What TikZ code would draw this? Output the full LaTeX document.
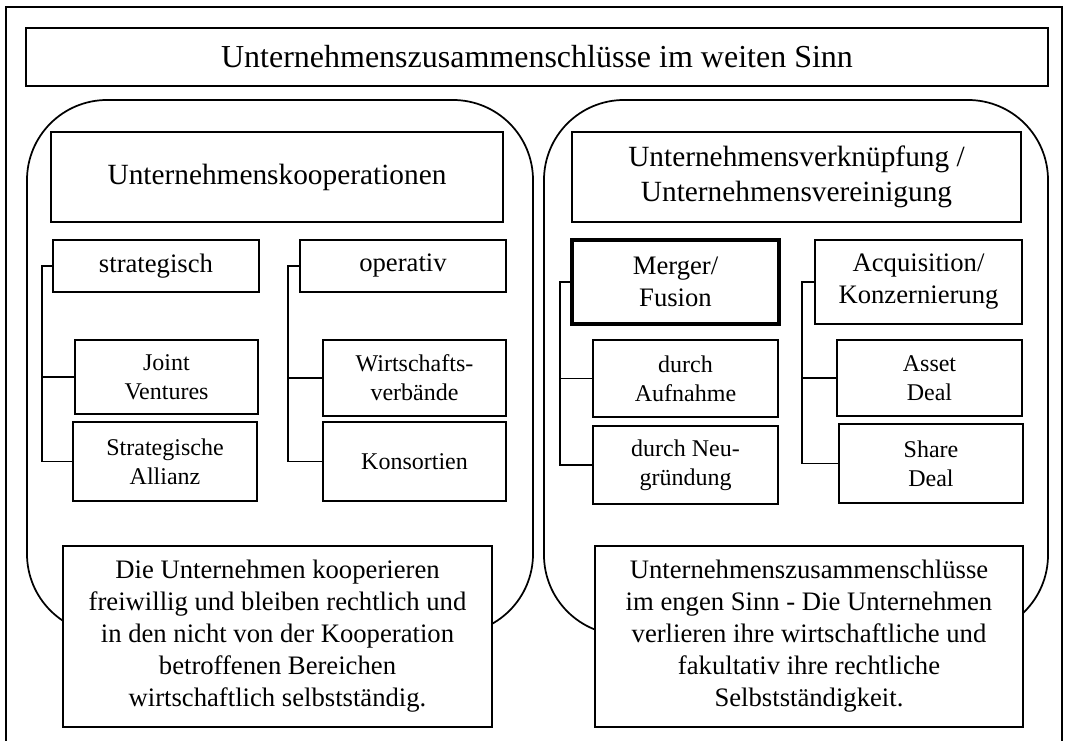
\documentclass[tikz,border=0pt]{standalone}
\usepackage{fontspec}
\setmainfont{Liberation Serif}
\begin{document}
\begin{tikzpicture}[x=0.75pt,y=-0.75pt,
  box/.style={draw=black,line width=1.4pt,fill=white,rectangle,inner sep=0pt,align=center},
  heavybox/.style={box,line width=2.4pt},
  roundbox/.style={draw=black,line width=1.3pt,rounded corners=60pt},
  frameline/.style={draw=black,line width=1.5pt},
  link/.style={draw=black,line width=1.4pt},
  titlefont/.style={font=\fontsize{24}{28}\selectfont},
  headfont/.style={font=\fontsize{22}{26}\selectfont},
  midfont/.style={font=\fontsize{20}{24}\selectfont},
  smallfont/.style={font=\fontsize{18}{21.5}\selectfont},
  textfont/.style={font=\fontsize{20}{24}\selectfont}]
\useasboundingbox (0,0) rectangle (1065,741);

% outer frame (open at the bottom)
\draw[frameline] (6,741) -- (6,7) -- (1062,7) -- (1062,741);

% title
\node[box,titlefont,minimum width=1022*0.75pt,minimum height=58*0.75pt] (title) at (537,57)
  {Unternehmenszusammenschlüsse im weiten Sinn};

% the two rounded groups
\draw[roundbox] (27,100) rectangle (533,634);
\draw[roundbox] (544,100) rectangle (1048,635);

% left group: cooperations
\node[box,headfont,minimum width=452*0.75pt,minimum height=90*0.75pt] (koop) at (277,177)
  {Unternehmenskooperationen};
\node[box,midfont,minimum width=206*0.75pt,minimum height=52*0.75pt] (strat) at (156,266) {strategisch};
\node[box,midfont,minimum width=206*0.75pt,minimum height=52*0.75pt] (oper) at (403,266) {operativ};
\node[box,smallfont,minimum width=183*0.75pt,minimum height=74*0.75pt] (joint) at (166.5,377) {Joint\\Ventures};
\node[box,smallfont,minimum width=184*0.75pt,minimum height=79*0.75pt] (allianz) at (165,461.5) {Strategische\\Allianz};
\node[box,smallfont,minimum width=183*0.75pt,minimum height=76*0.75pt] (wirt) at (414.5,378) {Wirtschafts-\\verbände};
\node[box,smallfont,minimum width=183*0.75pt,minimum height=79*0.75pt] (kons) at (414.5,461.5) {Konsortien};
\node[box,textfont,minimum width=429*0.75pt,minimum height=181*0.75pt] (ltext) at (277.5,636.5)
  {Die Unternehmen kooperieren\\freiwillig und bleiben rechtlich und\\in den nicht von der Kooperation\\betroffenen Bereichen\\wirtschaftlich selbstständig.};

% right group: combinations
\node[box,headfont,minimum width=449*0.75pt,minimum height=90*0.75pt] (verk) at (796.5,177)
  {Unternehmensverknüpfung /\\Unternehmensvereinigung};
\node[heavybox,midfont,minimum width=207*0.75pt,minimum height=84*0.75pt] (merger) at (675.5,282) {Merger/\\Fusion};
\node[box,midfont,minimum width=207*0.75pt,minimum height=84*0.75pt] (acq) at (918.5,282) {Acquisition/\\Konzernierung};
\node[box,smallfont,minimum width=185*0.75pt,minimum height=77*0.75pt] (aufn) at (685.5,378.5) {durch\\Aufnahme};
\node[box,smallfont,minimum width=185*0.75pt,minimum height=78*0.75pt] (neug) at (685.5,465) {durch Neu-\\gründung};
\node[box,smallfont,minimum width=185*0.75pt,minimum height=76*0.75pt] (asset) at (929.5,378) {Asset\\Deal};
\node[box,smallfont,minimum width=184*0.75pt,minimum height=79*0.75pt] (share) at (931,463.5) {Share\\Deal};
\node[box,textfont,minimum width=428*0.75pt,minimum height=181*0.75pt] (rtext) at (809,636.5)
  {Unternehmenszusammenschlüsse\\im engen Sinn - Die Unternehmen\\verlieren ihre wirtschaftliche und\\fakultativ ihre rechtliche\\Selbstständigkeit.};

% tree connectors
\coordinate (sbus) at (42,266);
\coordinate (obus) at (288,266);
\coordinate (mbus) at (560,282);
\coordinate (abus) at (802,282);

\draw[link] (strat.west) -- (sbus) |- (allianz.west);
\draw[link] (sbus |- joint.west) -- (joint.west);
\draw[link] (oper.west) -- (obus) |- (kons.west);
\draw[link] (obus |- wirt.west) -- (wirt.west);
\draw[link] (merger.west) -- (mbus) |- (neug.west);
\draw[link] (mbus |- aufn.west) -- (aufn.west);
\draw[link] (acq.west) -- (abus) |- (share.west);
\draw[link] (abus |- asset.west) -- (asset.west);
\end{tikzpicture}
\end{document}
